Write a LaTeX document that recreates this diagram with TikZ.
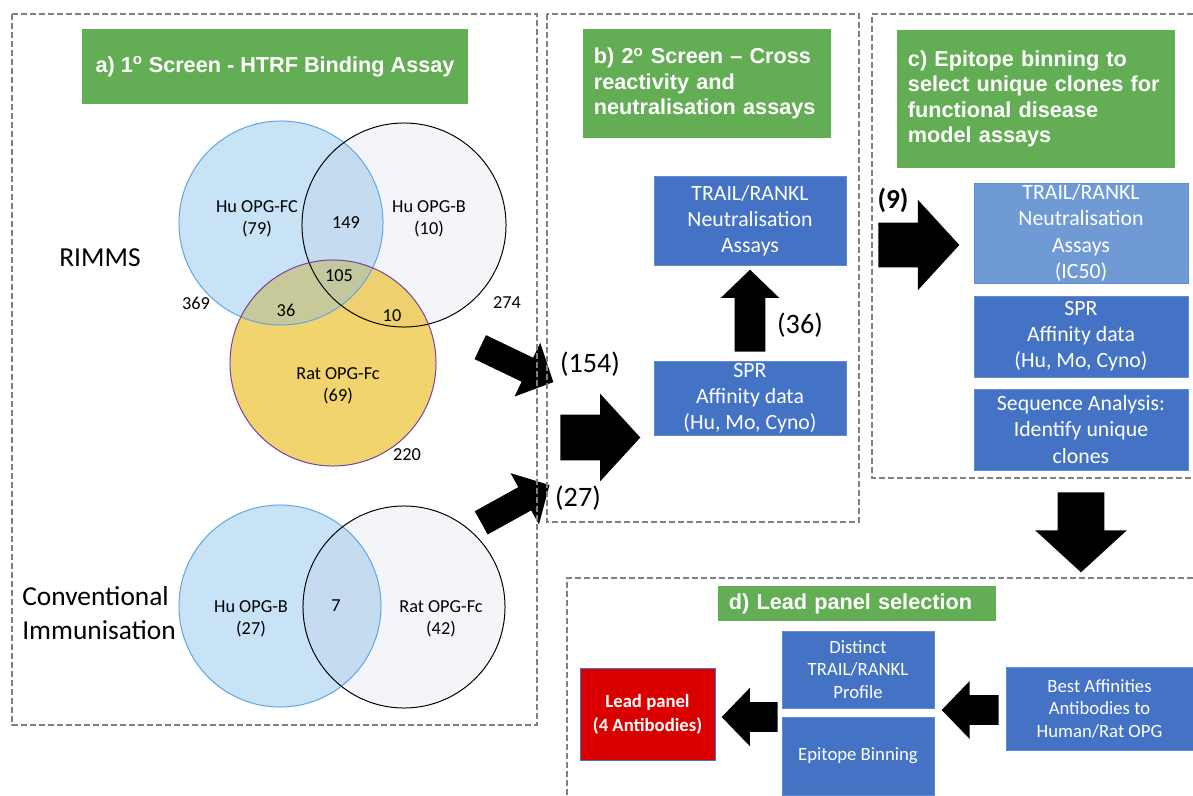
\documentclass[tikz,border=0pt]{standalone}
\usepackage{fontspec}
\setmainfont{Carlito}
\newfontfamily\hdrfont{Liberation Sans}
\usepackage{tikz}
\usetikzlibrary{shapes,arrows}

\definecolor{hdrgreen}{RGB}{99,173,84}
\definecolor{boxblue}{RGB}{68,114,196}
\definecolor{boxlight}{RGB}{112,154,211}
\definecolor{boxedge}{RGB}{96,140,214}
\definecolor{leadred}{RGB}{218,0,0}
\definecolor{dashgray}{RGB}{128,128,128}
\definecolor{vblue}{RGB}{200,226,246}
\definecolor{vblueedge}{RGB}{92,166,228}
\definecolor{vgray}{RGB}{244,245,248}
\definecolor{vbluegray}{RGB}{197,220,240}
\definecolor{vyellow}{RGB}{242,212,111}
\definecolor{vyelgray}{RGB}{238,209,110}
\definecolor{volive}{RGB}{199,201,155}
\definecolor{vtriple}{RGB}{195,199,157}
\definecolor{vpurple}{RGB}{120,62,160}

\begin{document}
\begin{tikzpicture}[
		x=0.025cm, y=-0.025cm,
		hdr/.style = {fill=hdrgreen, text=white, font=\hdrfont\bfseries\fontsize{15.4}{18.2}\selectfont, align=left, inner xsep=0.275cm, inner ysep=0pt},
		box/.style = {fill=boxblue, draw=boxedge, line width=0.6pt, text=white, align=center, inner sep=0pt, font=\fontsize{15.5}{18.6}\selectfont},
		sbox/.style = {box, font=\fontsize{13.3}{16}\selectfont},
		vlab/.style = {font=\fontsize{13}{15.6}\selectfont, align=center, inner sep=0pt},
		side/.style = {font=\fontsize{19.5}{24}\selectfont, align=left, inner sep=0pt},
		count/.style = {font=\fontsize{20}{24}\selectfont, inner sep=0pt},
		blk/.style = {single arrow, fill=black, inner xsep=0pt, single arrow head indent=0pt, single arrow tip angle=92, anchor=tail},
		panel/.style = {draw=dashgray, line width=1.5pt, dash pattern=on 4.2pt off 2.2pt}
	]
	\useasboundingbox (0,0) rectangle (1193,796);

	% RIMMS venn
	\coordinate (cFc) at (281,223);
	\coordinate (cB) at (404,225);
	\coordinate (cRat) at (333,363);
	\fill[vblue] (cFc) circle[radius=2.55cm];
	\fill[vgray] (cB) circle[radius=2.55cm];
	\begin{scope}
		\clip (cFc) circle[radius=2.55cm];
		\fill[vbluegray] (cB) circle[radius=2.55cm];
	\end{scope}
	\fill[vyellow] (cRat) circle[radius=2.575cm];
	\begin{scope}
		\clip (cRat) circle[radius=2.575cm];
		\fill[volive] (cFc) circle[radius=2.55cm];
		\fill[vyelgray] (cB) circle[radius=2.55cm];
		\clip (cFc) circle[radius=2.55cm];
		\fill[vtriple] (cB) circle[radius=2.55cm];
	\end{scope}
	\draw[vblueedge, line width=0.7pt] (cFc) circle[radius=2.55cm];
	\draw[black, line width=0.7pt] (cB) circle[radius=2.55cm];
	\draw[vpurple, line width=0.7pt] (cRat) circle[radius=2.575cm];

	% conventional venn
	\coordinate (cHuB) at (280,606);
	\coordinate (cRatFc) at (404,607);
	\fill[vblue] (cHuB) circle[radius=2.525cm];
	\fill[vgray] (cRatFc) circle[radius=2.525cm];
	\begin{scope}
		\clip (cHuB) circle[radius=2.525cm];
		\fill[vbluegray] (cRatFc) circle[radius=2.525cm];
	\end{scope}
	\draw[vblueedge, line width=0.7pt] (cHuB) circle[radius=2.525cm];
	\draw[black, line width=0.7pt] (cRatFc) circle[radius=2.525cm];

	\node[vlab] (nHuFc)  at (257,219) {Hu OPG-FC\\(79)};
	\node[vlab] (n149)   at (346,223) {149};
	\node[vlab] (nHuB)   at (429,219) {Hu OPG-B\\(10)};
	\node[vlab] (n105)   at (339,276) {105};
	\node[vlab] (n369)   at (196,303) {369};
	\node[vlab] (n36)    at (286,310) {36};
	\node[vlab] (n10)    at (392,316) {10};
	\node[vlab] (n274)   at (507,303) {274};
	\node[vlab] (nRat)   at (338,386) {Rat OPG-Fc\\(69)};
	\node[vlab] (n220)   at (407,455) {220};
	\node[vlab] (nHuB2)  at (251,619) {Hu OPG-B\\(27)};
	\node[vlab] (n7)     at (336,606) {7};
	\node[vlab] (nRat2)  at (441,619) {Rat OPG-Fc\\(42)};
	\node[side] (rimms)  at (100,258) {RIMMS};
	\node[side, anchor=west] (conv) at (22,613) {Conventional\\Immunisation};

	% headers
	\node[hdr, align=center, minimum width=9.625cm, minimum height=1.875cm] (hdrA) at (275,66.5) {a) 1\textsuperscript{o} Screen - HTRF Binding Assay};
	\node[hdr, text width=5.65cm, minimum height=2.725cm] (hdrB) at (707,83.5) {b) 2\textsuperscript{o} Screen – Cross\\reactivity and\\neutralisation assays};
	\node[hdr, text width=6.4cm, minimum height=3.45cm] (hdrC) at (1036,99) {c) Epitope binning to\\select unique clones for\\functional disease\\model assays};
	\node[hdr, text width=6.4cm, minimum height=0.875cm] (hdrD) at (857,603.5) {d) Lead panel selection};

	% boxes
	\node[box, minimum width=4.8cm, minimum height=2.225cm] (neutB) at (750,220.5) {TRAIL/RANKL\\Neutralisation\\Assays};
	\node[box, minimum width=4.8cm, minimum height=1.85cm] (sprB) at (750,398) {SPR\\Affinity data\\(Hu, Mo, Cyno)};
	\node[box, fill=boxlight, minimum width=5.35cm, minimum height=2.5cm] (neutC) at (1081,233) {TRAIL/RANKL\\Neutralisation\\Assays\\(IC50)};
	\node[box, minimum width=5.35cm, minimum height=2.025cm] (sprC) at (1081,336.5) {SPR\\Affinity data\\(Hu, Mo, Cyno)};
	\node[box, minimum width=5.35cm, minimum height=2.025cm] (seqC) at (1081,429.5) {Sequence Analysis:\\Identify unique\\clones};
	\node[sbox, minimum width=3.8cm, minimum height=1.925cm] (distD) at (858,669.5) {Distinct\\TRAIL/RANKL\\Profile};
	\node[sbox, minimum width=3.8cm, minimum height=1.95cm] (epiD) at (858,756) {Epitope Binning};
	\node[sbox, fill=leadred, draw=boxblue, font=\bfseries\fontsize{13.3}{17}\selectfont, minimum width=3.375cm, minimum height=2.3cm] (lead) at (647.5,714) {Lead panel\\(4 Antibodies)};
	\node[sbox, minimum width=4.675cm, minimum height=2.075cm] (best) at (1099.5,708.5) {Best Affinities\\Antibodies to\\Human/Rat OPG};

	% block arrows
	\node[blk, minimum height=2.025cm, inner ysep=0.325cm, single arrow head extend=0.4125cm, rotate=-25.6] (arrRim) at (480,347) {};
	\node[blk, minimum height=1.95cm, inner ysep=0.325cm, single arrow head extend=0.4cm, rotate=29] (arrConv) at (481,523) {};
	\node[blk, minimum height=2cm, inner ysep=0.5625cm, single arrow head extend=0.525cm, single arrow tip angle=95] (arrScr) at (560,437.5) {};
	\node[blk, minimum height=2.05cm, inner ysep=0.375cm, single arrow head extend=0.35cm, rotate=90] (arrUp) at (750,352) {};
	\node[blk, minimum height=2.025cm, inner ysep=0.55cm, single arrow head extend=0.575cm, single arrow tip angle=95] (arrNine) at (878,245) {};
	\node[blk, minimum height=2cm, inner ysep=0.575cm, single arrow head extend=0.5625cm, single arrow tip angle=95, rotate=-90] (arrDown) at (1081,492) {};
	\node[blk, minimum height=1.4cm, inner ysep=0.3625cm, single arrow head extend=0.3625cm, rotate=180] (arrLead) at (778,717) {};
	\node[blk, minimum height=1.425cm, inner ysep=0.3625cm, single arrow head extend=0.35cm, rotate=180] (arrBest) at (999,710) {};

	\node[count] (c154) at (590,364) {(154)};
	\node[count] (c27)  at (578,498) {(27)};
	\node[count] (c36)  at (800,325) {(36)};
	\node[count, font=\bfseries\fontsize{19.5}{24}\selectfont] (c9) at (893,200) {(9)};

	% dashed panels
	\draw[panel] (12,14) rectangle (537,725);
	\draw[panel] (547,14) rectangle (859,522);
	\draw[panel] (1193,14) -- (872,14) -- (872,478) -- (1193,478);
	\draw[panel] (1193,578) -- (567,578) -- (567,796);
\end{tikzpicture}
\end{document}
